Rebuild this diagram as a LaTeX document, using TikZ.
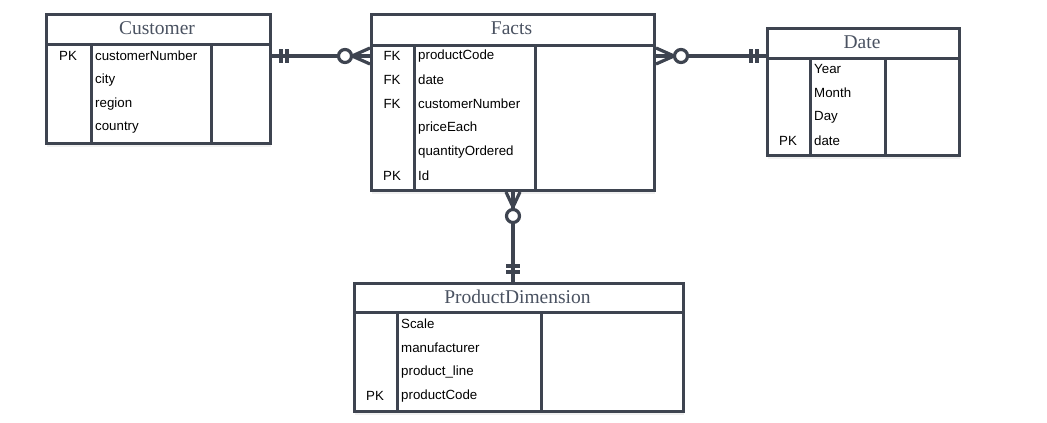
\documentclass[tikz,border=0pt]{standalone}
\usepackage{fontspec}
\setmainfont{Liberation Serif}
\setsansfont{Liberation Sans}
\usetikzlibrary{positioning,calc,shadows}
\definecolor{erline}{HTML}{3E4450}
\definecolor{ertitle}{HTML}{4A5261}

\begin{document}
\begin{tikzpicture}[x=1pt,y=-1pt,
    tbl/.style={draw=erline, fill=white, line width=3pt, rectangle, inner sep=0,
        anchor=north west, drop shadow={opacity=0.12, shadow xshift=0pt, shadow yshift=-3pt}},
    title/.style={font=\fontsize{19.5}{21}\selectfont, text=ertitle},
    key/.style={font=\sffamily\fontsize{13.3}{15}\selectfont},
    fld/.style={font=\sffamily\fontsize{13.3}{15}\selectfont, anchor=west, inner sep=0},
    sep/.style={erline, line width=3pt},
    rel/.style={erline, line width=3.2pt}]
    \useasboundingbox (0,0) rectangle (1047,423);

    % Customer
    \node[tbl, minimum width=224pt, minimum height=129pt] (cust) at (45,13) {};
    \draw[sep] (45,44) -- (269,44);
    \draw[sep] (91,44) -- (91,142);
    \draw[sep] (211,44) -- (211,142);
    \node[title] (custT) at (157,28) {Customer};
    \node[key] at (68,56) {PK};
    \node[fld] (custA) at (95,56) {customerNumber};
    \node[fld] (custB) at (95,80) {city};
    \node[fld] (custC) at (95,104) {region};
    \node[fld] (custD) at (95,128) {country};

    % Facts
    \node[tbl, minimum width=283pt, minimum height=176pt] (facts) at (370,13) {};
    \draw[sep] (370,45) -- (653,45);
    \draw[sep] (414,45) -- (414,189);
    \draw[sep] (535,45) -- (535,189);
    \node[title] (factsT) at (511.5,28) {Facts};
    \node[key] at (392,56) {FK};
    \node[key] at (392,80) {FK};
    \node[key] at (392,104) {FK};
    \node[key] at (392,176) {PK};
    \node[fld] (factsA) at (418,56) {productCode};
    \node[fld] (factsB) at (418,80) {date};
    \node[fld] (factsC) at (418,104) {customerNumber};
    \node[fld] (factsD) at (418,128) {priceEach};
    \node[fld] (factsE) at (418,152) {quantityOrdered};
    \node[fld] (factsF) at (418,176) {Id};

    % Date
    \node[tbl, minimum width=192pt, minimum height=127pt] (date) at (766,27) {};
    \draw[sep] (766,58) -- (958,58);
    \draw[sep] (810,58) -- (810,154);
    \draw[sep] (885,58) -- (885,154);
    \node[title] (dateT) at (862,42) {Date};
    \node[key] at (788,141) {PK};
    \node[fld] (dateA) at (814,69) {Year};
    \node[fld] (dateB) at (814,93) {Month};
    \node[fld] (dateC) at (814,117) {Day};
    \node[fld] (dateD) at (814,141) {date};

    % ProductDimension
    \node[tbl, minimum width=329pt, minimum height=128pt] (prod) at (353,282) {};
    \draw[sep] (353,312) -- (682,312);
    \draw[sep] (397,312) -- (397,410);
    \draw[sep] (541,312) -- (541,410);
    \node[title] (prodT) at (517.5,297) {ProductDimension};
    \node[key] at (375,396) {PK};
    \node[fld] (prodA) at (401,324) {Scale};
    \node[fld] (prodB) at (401,348) {manufacturer};
    \node[fld] (prodC) at (401,372) {product\_line};
    \node[fld] (prodD) at (401,396) {productCode};

    % Customer -- Facts
    \coordinate (cf1) at (cust.east |- custA);
    \coordinate (cf2) at (facts.west |- custA);
    \draw[rel] (cf1) -- (cf2);
    \draw[rel] ($(cf1)+(9,-7)$) -- ++(0,14);
    \draw[rel] ($(cf1)+(15,-7)$) -- ++(0,14);
    \draw[rel] ($(cf2)+(-18,0)$) -- ($(cf2)+(0,-8)$) ($(cf2)+(-18,0)$) -- ($(cf2)+(0,8)$);
    \draw[rel, fill=white] ($(cf2)+(-25,0)$) circle (6.5pt);

    % Facts -- Date
    \coordinate (fd1) at (facts.east |- factsA);
    \coordinate (fd2) at (date.west |- factsA);
    \draw[rel] (fd1) -- (fd2);
    \draw[rel] ($(fd2)+(-9,-7)$) -- ++(0,14);
    \draw[rel] ($(fd2)+(-15,-7)$) -- ++(0,14);
    \draw[rel] ($(fd1)+(18,0)$) -- ($(fd1)+(0,-8)$) ($(fd1)+(18,0)$) -- ($(fd1)+(0,8)$);
    \draw[rel, fill=white] ($(fd1)+(25,0)$) circle (6.5pt);

    % Facts -- ProductDimension
    \coordinate (fp1) at (facts.south);
    \coordinate (fp2) at (prod.north -| facts.south);
    \draw[rel] (fp1) -- (fp2);
    \draw[rel] ($(fp2)+(-7,-10)$) -- ++(14,0);
    \draw[rel] ($(fp2)+(-7,-16)$) -- ++(14,0);
    \draw[rel] ($(fp1)+(0,15)$) -- ($(fp1)+(-7,0)$) ($(fp1)+(0,15)$) -- ($(fp1)+(7,0)$);
    \draw[rel, fill=white] ($(fp1)+(0,24)$) circle (6.5pt);
\end{tikzpicture}
\end{document}
